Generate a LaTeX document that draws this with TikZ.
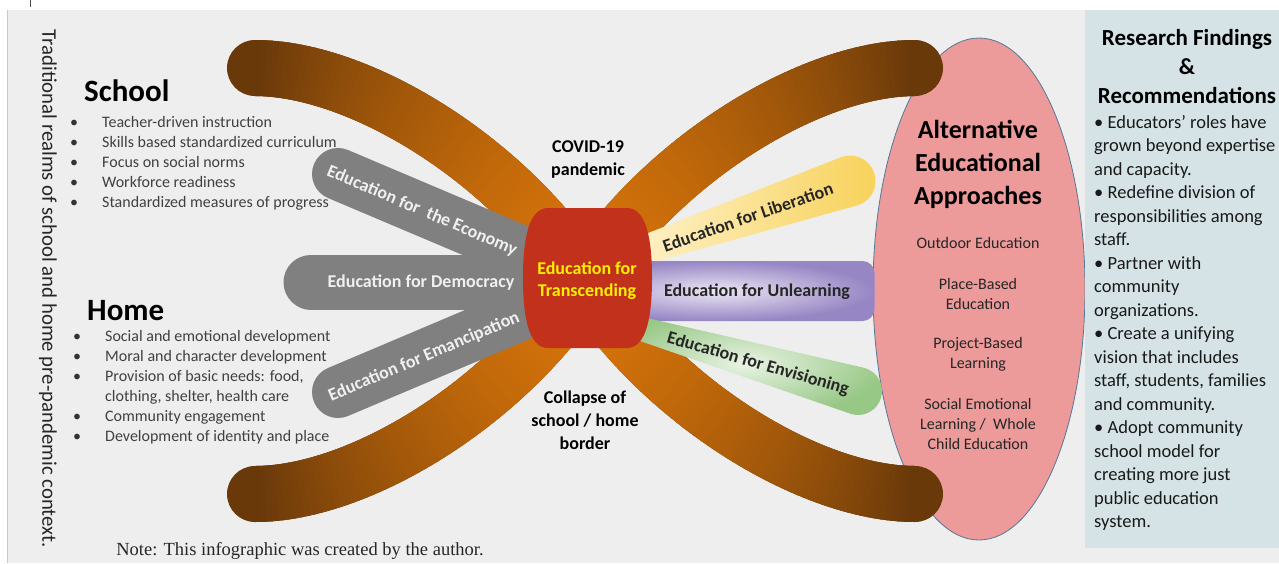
\documentclass[tikz,border=0pt]{standalone}
\usepackage{fontspec}
\setmainfont{Carlito}
\newfontfamily\notefont{Liberation Serif}

\definecolor{paper}{RGB}{239,238,239}
\definecolor{rimgray}{RGB}{200,200,202}
\definecolor{panelblue}{RGB}{213,227,230}
\definecolor{approachpink}{RGB}{236,154,154}
\definecolor{approachrim}{RGB}{84,120,150}
\definecolor{bandlight}{RGB}{218,118,10}
\definecolor{banddark}{RGB}{105,57,10}
\definecolor{pillgray}{RGB}{128,128,128}
\definecolor{redcore}{RGB}{193,49,28}
\definecolor{coreyellow}{RGB}{255,240,0}
\definecolor{libpale}{RGB}{255,245,215}
\definecolor{libgold}{RGB}{248,210,90}
\definecolor{unpale}{RGB}{236,230,244}
\definecolor{unpurple}{RGB}{150,134,196}
\definecolor{envpale}{RGB}{232,243,227}
\definecolor{envgreen}{RGB}{152,200,134}
\definecolor{listgray}{RGB}{64,64,64}

\tikzset{
  band/.style={line width=56pt, line cap=round},
  graypill/.style={draw=pillgray, line width=52pt, line cap=round},
  pilltext/.style={font=\fontsize{18}{22}\selectfont\bfseries, text=white!94!black, inner sep=1pt},
  colpill/.style={rounded corners=12pt, minimum height=60pt, inner sep=0pt},
  coltext/.style={font=\fontsize{18}{22}\selectfont\bfseries, text=black!85, inner sep=1pt},
  heading/.style={font=\fontsize{31}{36}\selectfont\bfseries, anchor=base west, inner sep=1pt},
  listtext/.style={font=\fontsize{16}{20}\selectfont, text=listgray, anchor=base west, inner sep=1pt},
  dot/.style={font=\fontsize{16}{20}\selectfont, text=black!80, anchor=base, inner sep=1pt},
  midtext/.style={font=\fontsize{18}{23}\selectfont\bfseries, align=center, inner sep=1pt},
  apptext/.style={font=\fontsize{16}{20}\selectfont, text=black!85, align=center, inner sep=1pt},
  findtext/.style={font=\fontsize{18.5}{23.5}\selectfont, text=black!90, anchor=base west, inner sep=1pt},
}

\begin{document}
\begin{tikzpicture}[x=1pt,y=-1pt]
  \useasboundingbox (0,0) rectangle (1279,563);
  \fill[white] (0,0) rectangle (1279,563);
  \fill[paper] (7,10) rectangle (1279,563);
  \draw[rimgray] (7.5,10) -- (7.5,563);
  \draw[black!70, line width=1pt] (30,0) -- (30,7);

  % approaches ellipse, under the band ends
  \draw[fill=approachpink, draw=approachrim, line width=0.8pt] (979,289) ellipse (106 and 251);

  % the four orange arms, dark at the tips
  \foreach \ax/\ay/\bx/\by/\ex/\ey in {510/161/360/68/255/68, 660/161/810/68/915/68,
                                       510/401/360/494/255/494, 660/401/810/494/915/494} {
    \draw[band, draw=banddark] (585,281) .. controls (\ax,\ay) and (\bx,\by) .. (\ex,\ey);
    \foreach \i in {1,...,60} {
      \pgfmathsetmacro\s{(\i-1)/60}
      \pgfmathsetmacro\t{min(1,(\i+0.7)/60)}
      \pgfmathtruncatemacro\m{100*(1-(\i/60)^1.4)}
      \path (585,281) .. controls (\ax,\ay) and (\bx,\by) .. (\ex,\ey)
        coordinate[pos=\s] (u) coordinate[pos=\t] (v);
      \draw[line width=56pt, draw=bandlight!\m!banddark] (u) -- (v);
    }
  }

  % gray pills, school/home side
  \draw[graypill] (338,174) -- (560,268);
  \draw[graypill, line width=55pt] (311,282) -- (560,282);
  \draw[graypill] (338,392) -- (560,298);
  \node[pilltext, rotate=-23] (econ) at (422,211) {Education for~ the Economy};
  \node[pilltext] (democ) at (421,283) {Education for Democracy};
  \node[pilltext, rotate=23] (emanc) at (424,357) {Education for Emancipation};

  % coloured petals, alternative side
  \begin{scope}[shift={(850,181)}, rotate=18.5]
    \shade[left color=libpale, right color=libgold]
      (-260,-12) -- (0,-25.5) arc[start angle=-90, end angle=90, radius=25.5] -- (-260,12) -- cycle;
  \end{scope}
  \node[colpill, minimum width=315pt, inner color=unpale, outer color=unpurple] (unbar) at (717,291) {};
  \begin{scope}[shift={(858,391)}, rotate=-16]
    \shade[inner color=envpale, outer color=envgreen]
      (-260,-10) -- (0,-24) arc[start angle=-90, end angle=90, radius=24] -- (-260,10) -- cycle;
  \end{scope}
  \node[coltext, rotate=19] (liber) at (748,217) {Education for Liberation};
  \node[coltext] (unlearn) at (757,292) {Education for Unlearning};
  \node[coltext, rotate=-16] (envis) at (758,364) {Education for Envisioning};

  % centre barrel
  \fill[redcore] (548,208) -- (627,208) .. controls (648,208) and (652,245) .. (652,278)
    .. controls (652,311) and (648,348) .. (627,348) -- (548,348)
    .. controls (527,348) and (523,311) .. (523,278) .. controls (523,245) and (527,208) .. (548,208) -- cycle;
  \node[font=\fontsize{18}{22}\selectfont\bfseries, text=coreyellow, align=center, inner sep=1pt] (transc) at (587,281) {Education for\\Transcending};

  \node[midtext] (covid) at (588,160) {COVID-19\\pandemic};
  \node[midtext] (collapse) at (585,420) {Collapse of\\school / home\\border};

  % left column
  \node[rotate=-90, font=\fontsize{20.8}{24}\selectfont, text=black!85, inner sep=1pt] (realm) at (48,289)
    {Traditional realms of school and home pre-pandemic context.};
  \node[heading] (school) at (83,101) {School};
  \foreach \txt [count=\i] in {Teacher-driven instruction, Skills based standardized curriculum,
      Focus on social norms, Workforce readiness, Standardized measures of progress} {
    \node[dot] (sb\i) at (74,107+20*\i) {\textbullet};
    \node[listtext] (st\i) at (101,107+20*\i) {\txt};
  }
  \node[heading] (home) at (86,320) {Home};
  \foreach \b/\txt [count=\i] in {1/Social and emotional development, 1/Moral and character development,
      1/{Provision of basic needs: food,}, 0/{clothing, shelter, health care},
      1/Community engagement, 1/Development of identity and place} {
    \ifnum\b=1 \node[dot] (hb\i) at (77,321+20*\i) {\textbullet}; \fi
    \node[listtext] (ht\i) at (104,321+20*\i) {\txt};
  }
  \node[font=\notefont\fontsize{18.5}{22}\selectfont, text=black!85, inner sep=1pt] (note) at (300,551)
    {Note: This infographic was created by the author.};

  % ellipse contents
  \node[font=\fontsize{26}{33}\selectfont\bfseries, align=center, inner sep=1pt] (alt) at (978,164)
    {Alternative\\Educational\\Approaches};
  \node[apptext] (outdoor) at (978,243) {Outdoor Education};
  \node[apptext] (place) at (978,294) {Place-Based\\Education};
  \node[apptext] (project) at (978,354) {Project-Based\\Learning};
  \node[apptext] (sel) at (978,424) {Social Emotional\\Learning /~ Whole\\Child Education};

  % findings panel
  \fill[panelblue] (1085,10) rectangle (1279,548);
  \node[font=\fontsize{23}{29}\selectfont\bfseries, align=center, inner sep=1pt] (rfhead) at (1187,67)
    {Research Findings\\\&\\Recommendations};
  \foreach \txt [count=\i] in {\textbullet\ Educators’ roles have, grown beyond expertise, and capacity.,
      \textbullet\ Redefine division of, responsibilities among, staff.,
      \textbullet\ Partner with, community, organizations.,
      \textbullet\ Create a unifying, vision that includes, {staff, students, families}, and community.,
      \textbullet\ Adopt community, school model for, creating more just, public education, system.} {
    \node[findtext] (rf\i) at (1093,104.5+23.5*\i) {\txt};
  }
\end{tikzpicture}
\end{document}
